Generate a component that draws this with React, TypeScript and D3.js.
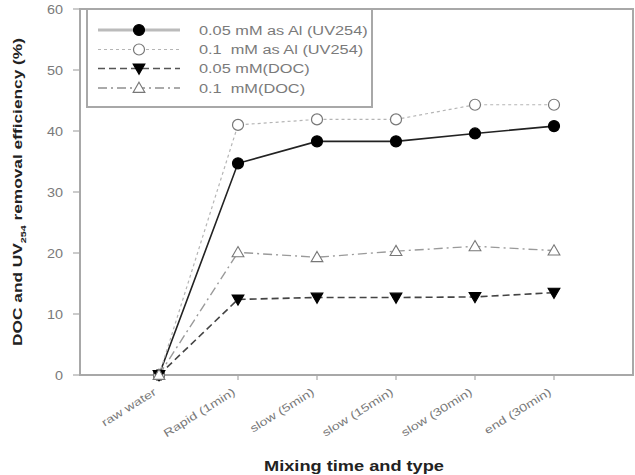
import { useRef, useEffect } from 'react';
import * as d3 from 'd3';

const categories = ['raw water', 'Rapid (1min)', 'slow (5min)', 'slow (15min)', 'slow (30min)', 'end (30min)'];
const uv005 = [0, 34.7, 38.3, 38.3, 39.6, 40.8];
const uv01 = [0, 41.0, 41.9, 41.9, 44.3, 44.3];
const doc005 = [0, 12.4, 12.7, 12.7, 12.8, 13.5];
const doc01 = [0, 20.1, 19.3, 20.3, 21.1, 20.4];
const yTicks = [0, 10, 20, 30, 40, 50, 60];

const seriesNames = ['0.05 mM as Al (UV254)', '0.1  mM as Al (UV254)', '0.05 mM(DOC)', '0.1  mM(DOC)'];

const FONT = 'Arial, Liberation Sans, sans-serif';

export default function App() {
  const svgRef = useRef<SVGSVGElement>(null);

  useEffect(() => {
    const svg = d3.select(svgRef.current);
    svg.selectAll('*').remove();

    const left = 80, right = 633, top = 9, bottom = 375;
    const x = d3.scaleLinear().domain([-1, 6]).range([left, right]);
    const y = d3.scaleLinear().domain([0, 60]).range([bottom, top]);
    const grey = '#a8a8a8';
    const textGrey = '#7a7a7a';

    const g = svg.append('g');

    // the scanned figure's text is wider than Arial, so stretch it
    const stretch = (sel: d3.Selection<SVGTextElement, unknown, null, undefined>, k: number) => {
      const node = sel.node();
      if (!node) return;
      const len = node.getComputedTextLength();
      sel.attr('textLength', len * k).attr('lengthAdjust', 'spacingAndGlyphs');
    };

    const series = [
      { values: uv005, name: seriesNames[0], stroke: '#222', width: 1.6, dash: null as string | null, marker: 'circle', fill: '#000', legStroke: '#bbb', legWidth: 3 },
      { values: uv01, name: seriesNames[1], stroke: '#b5b5b5', width: 1.2, dash: '3,3', marker: 'circle', fill: '#fff', legStroke: '#b5b5b5', legWidth: 1.2 },
      { values: doc005, name: seriesNames[2], stroke: '#444', width: 1.6, dash: '7,4', marker: 'down', fill: '#000', legStroke: '#555', legWidth: 1.6 },
      { values: doc01, name: seriesNames[3], stroke: '#9a9a9a', width: 1.4, dash: '9,4,2,4', marker: 'up', fill: '#fff', legStroke: '#aaa', legWidth: 1.8 },
    ];

    const drawMarker = (cx: number, cy: number, s: typeof series[0]) => {
      if (s.marker === 'circle') {
        g.append('circle').attr('cx', cx).attr('cy', cy).attr('r', 5.5)
          .attr('fill', s.fill).attr('stroke', s.fill === '#000' ? '#000' : '#777').attr('stroke-width', 1.2);
      } else {
        const sym = d3.symbol().type(d3.symbolTriangle).size(60)();
        g.append('path').attr('d', sym)
          .attr('transform', `translate(${cx},${cy + (s.marker === 'down' ? -1 : 1)}) rotate(${s.marker === 'down' ? 180 : 0})`)
          .attr('fill', s.fill).attr('stroke', s.fill === '#000' ? '#000' : '#777').attr('stroke-width', 1.1);
      }
    };

    // frame
    g.append('rect').attr('x', left).attr('y', top).attr('width', right - left).attr('height', bottom - top)
      .attr('fill', 'none').attr('stroke', grey).attr('stroke-width', 2);

    // y ticks
    yTicks.forEach(t => {
      g.append('line').attr('x1', left - 7).attr('x2', left).attr('y1', y(t)).attr('y2', y(t))
        .attr('stroke', grey).attr('stroke-width', 1.2);
      const tx = g.append('text').attr('x', left - 17).attr('y', y(t) + 4.5).attr('text-anchor', 'end')
        .attr('fill', textGrey).attr('font-size', '12px').attr('font-family', FONT)
        .text(t);
      stretch(tx, 1.2);
    });

    // x ticks + labels
    categories.forEach((c, i) => {
      if (i > 0) {
        g.append('line').attr('x1', x(i)).attr('x2', x(i)).attr('y1', bottom).attr('y2', bottom + 5)
          .attr('stroke', grey).attr('stroke-width', 1.2);
      }
      const tx = g.append('text').attr('transform', `translate(${x(i) - 2},${bottom + 19}) rotate(-32)`)
        .attr('text-anchor', 'end').attr('fill', textGrey).attr('font-size', '11px')
        .attr('font-family', FONT).text(c);
      stretch(tx, 1.3);
    });

    // lines
    series.forEach(s => {
      const line = d3.line<number>().x((_, i) => x(i)).y(v => y(v));
      g.append('path').attr('d', line(s.values)).attr('fill', 'none')
        .attr('stroke', s.stroke).attr('stroke-width', s.width)
        .attr('stroke-dasharray', s.dash);
    });
    series.forEach(s => s.values.forEach((v, i) => drawMarker(x(i), y(v), s)));

    // legend
    const lg = { x0: 87, y0: 9, x1: 372, y1: 107 };
    g.append('rect').attr('x', lg.x0).attr('y', lg.y0).attr('width', lg.x1 - lg.x0).attr('height', lg.y1 - lg.y0)
      .attr('fill', '#fff').attr('stroke', grey).attr('stroke-width', 2);
    const rowY = [30, 49.5, 68.5, 88];
    series.forEach((s, i) => {
      g.append('line').attr('x1', 98).attr('x2', 180).attr('y1', rowY[i]).attr('y2', rowY[i])
        .attr('stroke', s.legStroke).attr('stroke-width', s.legWidth).attr('stroke-dasharray', s.dash);
      drawMarker(139, rowY[i], s);
      const tx = g.append('text').attr('x', 199).attr('y', rowY[i] + 4.5).attr('fill', textGrey)
        .attr('font-size', '12px').attr('font-family', FONT)
        .attr('xml:space', 'preserve').text(s.name);
      stretch(tx, 1.36);
    });

    // axis titles
    const xt = g.append('text').attr('x', 354).attr('y', 471).attr('text-anchor', 'middle')
      .attr('fill', '#222').attr('font-size', '14px').attr('font-weight', 'bold')
      .attr('font-family', FONT).text('Mixing time and type');
    stretch(xt, 1.3);

    const yt = g.append('text').attr('transform', `translate(22,192) rotate(-90)`).attr('text-anchor', 'middle')
      .attr('fill', '#222').attr('font-size', '13px').attr('font-weight', 'bold')
      .attr('font-family', FONT);
    yt.append('tspan').text('DOC and UV');
    yt.append('tspan').attr('font-size', '8px').attr('dy', 4).text('254');
    yt.append('tspan').attr('dy', -4).text(' removal efficiency (%)');
    stretch(yt, 1.33);
  }, []);

  return (
    <svg ref={svgRef} width={635} height={475}
      style={{ position: 'absolute', left: 0, top: 0, display: 'block', background: '#fff' }} />
  );
}
